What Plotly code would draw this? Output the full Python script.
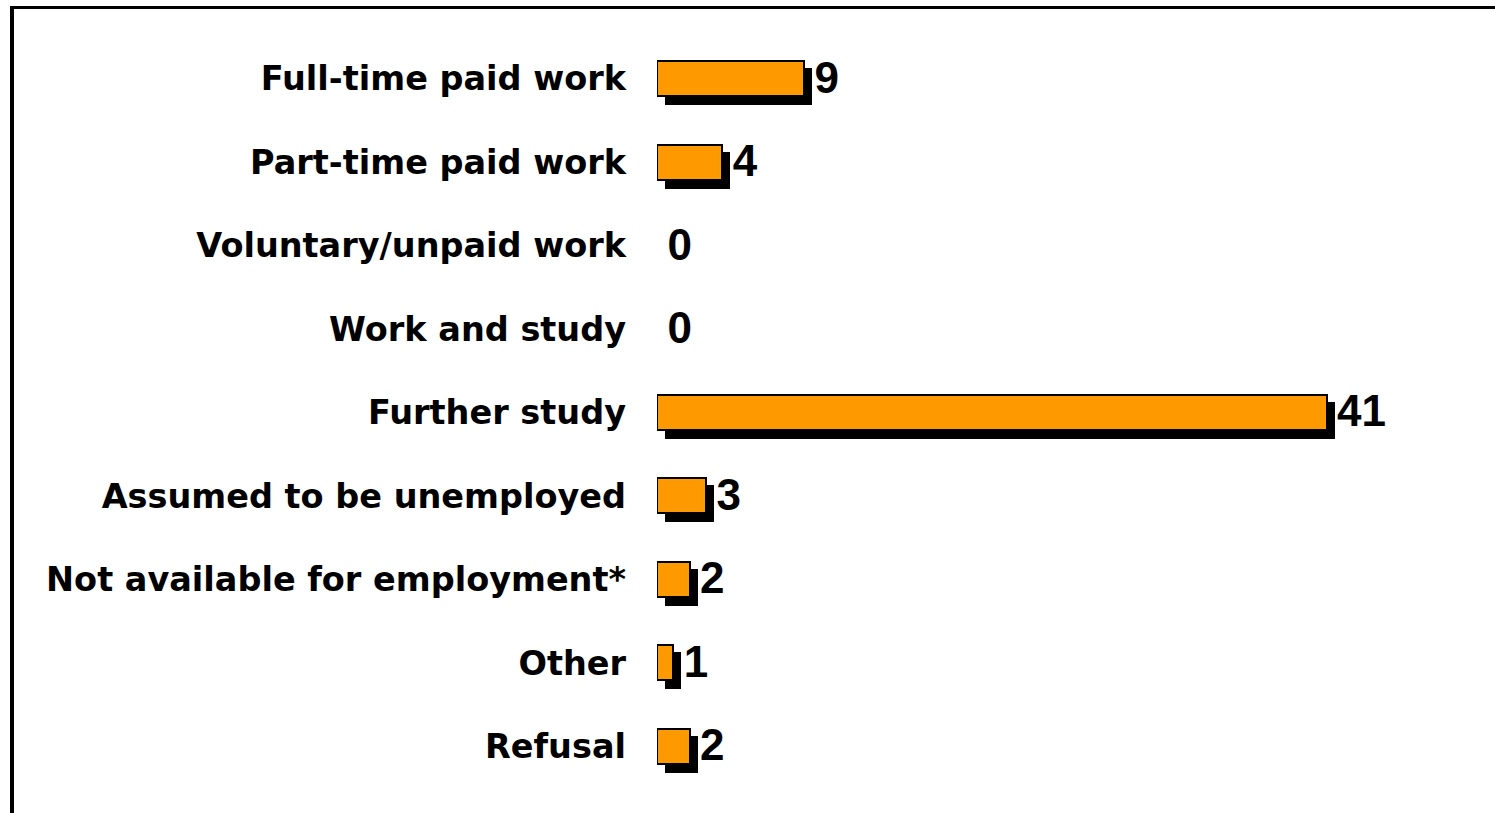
import plotly.graph_objects as go

categories = [
    "Full-time paid work",
    "Part-time paid work",
    "Voluntary/unpaid work",
    "Work and study",
    "Further study",
    "Assumed to be unemployed",
    "Not available for employment*",
    "Other",
    "Refusal",
]
values = [9, 4, 0, 0, 41, 3, 2, 1, 2]
value_labels = ["9", "4", "0", "0", "41", "3", "2", "1", "2"]

# layout geometry (pixels)
W_FIG, H_FIG = 1495, 813
M_L, M_R, M_T, M_B = 657, 22, 37, 25
PX_PER_UNIT = 16.33
ROW_PX = (H_FIG - M_T - M_B) / len(categories)
plot_w = W_FIG - M_L - M_R
plot_h = H_FIG - M_T - M_B
x_max = plot_w / PX_PER_UNIT

shadow_dx = 8 / PX_PER_UNIT
shadow_dy = 8 / ROW_PX
bar_w = 35 / ROW_PX

idx = list(range(len(categories)))
# zero-length bars are not drawn (avoid a stray outline)
bar_values = [v if v != 0 else None for v in values]

fig = go.Figure()
# shadow bars
fig.add_trace(go.Bar(
    orientation="h",
    y=[i + shadow_dy for i in idx],
    x=bar_values,
    base=shadow_dx,
    width=bar_w + 2 / ROW_PX,
    marker=dict(color="black", line=dict(width=0)),
    hoverinfo="skip",
    showlegend=False,
))
# main bars
fig.add_trace(go.Bar(
    orientation="h",
    y=idx,
    x=bar_values,
    base=0,
    width=bar_w,
    marker=dict(color="#FF9900", line=dict(color="black", width=2)),
    showlegend=False,
))
# value labels
fig.add_trace(go.Scatter(
    x=[v + shadow_dx + 0.15 for v in values],
    y=[i + 0.035 for i in idx],
    mode="text",
    text=value_labels,
    textposition="middle right",
    textfont=dict(family="Liberation Sans", size=44, color="black", weight="bold"),
    showlegend=False,
    hoverinfo="skip",
    cliponaxis=False,
))

fig.update_layout(
    width=W_FIG,
    height=H_FIG,
    margin=dict(l=M_L, r=M_R, t=M_T, b=M_B, pad=0),
    paper_bgcolor="white",
    plot_bgcolor="white",
    barmode="overlay",
    bargap=0,
    xaxis=dict(range=[0, x_max], visible=False, fixedrange=True),
    yaxis=dict(
        range=[len(categories) - 0.5, -0.5],
        tickmode="array",
        tickvals=idx,
        ticktext=categories,
        showgrid=False,
        zeroline=False,
        showline=False,
        ticks="",
        ticklabelstandoff=30,
        tickfont=dict(family="DejaVu Sans", size=33.5, color="black", weight="bold"),
        fixedrange=True,
    ),
    shapes=[
        dict(type="line", xref="paper", yref="paper",
             x0=(12 - M_L) / plot_w, x1=(12 - M_L) / plot_w,
             y0=(H_FIG - 6 - M_B) / plot_h, y1=(-M_B - 5) / plot_h,
             line=dict(color="black", width=4)),
        dict(type="line", xref="paper", yref="paper",
             x0=(10 - M_L) / plot_w, x1=(W_FIG + 5 - M_L) / plot_w,
             y0=(H_FIG - 7.5 - M_B) / plot_h, y1=(H_FIG - 7.5 - M_B) / plot_h,
             line=dict(color="black", width=3)),
    ],
)

fig.write_html(
    "out.html",
    config={"displayModeBar": False},
    post_script="document.body.style.margin='0px';",
)
